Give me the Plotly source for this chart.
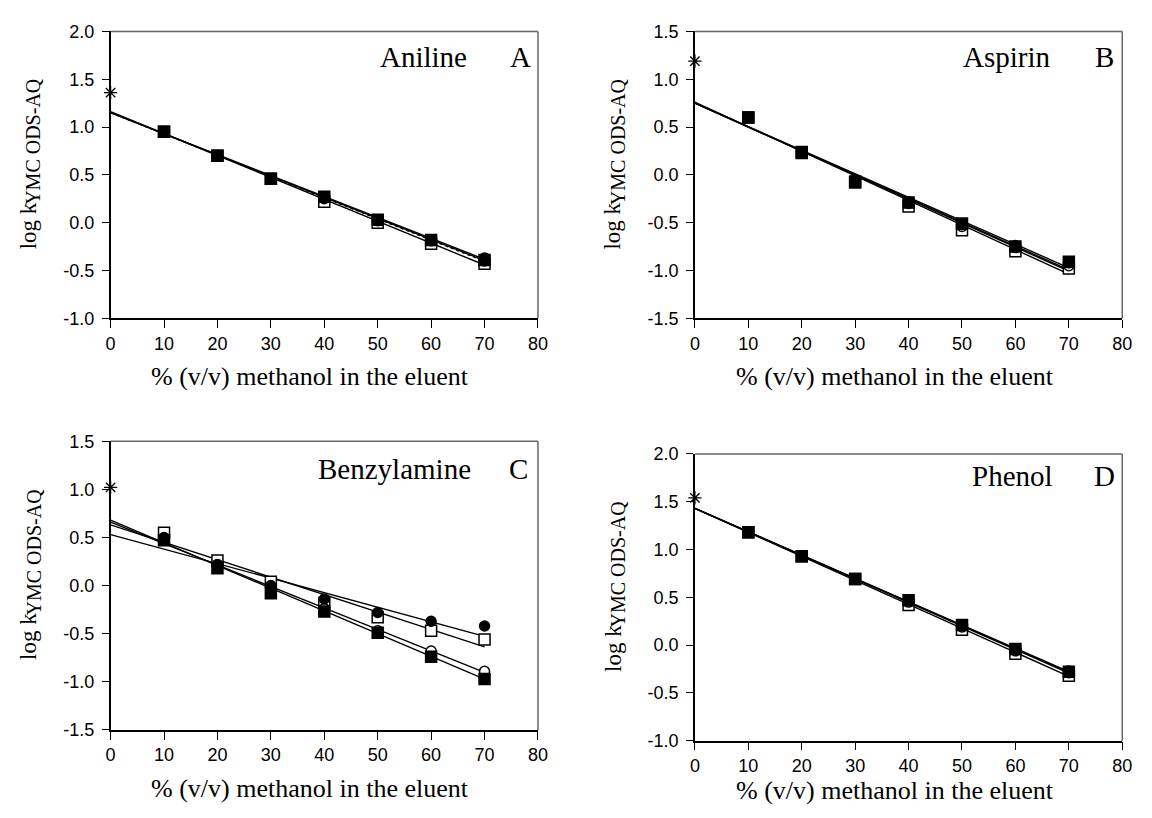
import plotly.graph_objects as go

# ---------------- data ----------------
x_pts = [10, 20, 30, 40, 50, 60, 70]
series_names = ["filled circle", "open circle", "open square", "filled square"]

# Panel A: Aniline
A_fc = [0.95, 0.70, 0.46, 0.26, 0.03, -0.18, -0.37]
A_oc = [0.95, 0.70, 0.46, 0.25, 0.02, -0.19, -0.40]
A_os = [0.95, 0.70, 0.46, 0.22, 0.00, -0.22, -0.43]
A_fs = [0.95, 0.70, 0.46, 0.27, 0.03, -0.18, -0.39]
A_intercept = [1.15, 1.15, 1.16, 1.15]
A_slope = [-0.0219, -0.0222, -0.0229, -0.0221]
A_star = 1.36

# Panel B: Aspirin
B_fc = [0.60, 0.23, -0.05, -0.28, -0.52, -0.74, -0.92]
B_oc = [0.60, 0.23, -0.06, -0.30, -0.54, -0.76, -0.95]
B_os = [0.60, 0.23, -0.07, -0.33, -0.58, -0.80, -0.98]
B_fs = [0.60, 0.24, -0.08, -0.29, -0.51, -0.75, -0.91]
B_intercept = [0.75, 0.75, 0.76, 0.75]
B_slope = [-0.0246, -0.0251, -0.0257, -0.0249]
B_star = 1.19

# Panel C: Benzylamine
C_fc = [0.50, 0.22, 0.00, -0.14, -0.28, -0.37, -0.42]
C_oc = [0.48, 0.20, -0.02, -0.24, -0.47, -0.68, -0.89]
C_os = [0.55, 0.26, 0.04, -0.18, -0.33, -0.47, -0.56]
C_fs = [0.47, 0.18, -0.08, -0.27, -0.49, -0.74, -0.97]
C_intercept = [0.53, 0.66, 0.63, 0.68]
C_slope = [-0.0151, -0.0223, -0.0181, -0.0236]
C_star = 1.02

# Panel D: Phenol
D_fc = [1.18, 0.93, 0.69, 0.47, 0.21, -0.04, -0.27]
D_oc = [1.18, 0.93, 0.69, 0.45, 0.19, -0.06, -0.29]
D_os = [1.18, 0.93, 0.69, 0.42, 0.16, -0.09, -0.32]
D_fs = [1.18, 0.93, 0.69, 0.47, 0.21, -0.04, -0.28]
D_intercept = [1.43, 1.43, 1.43, 1.43]
D_slope = [-0.0244, -0.0246, -0.0251, -0.0245]
D_star = 1.54

x_fit = [0, 70]
x_ticks = [0, 10, 20, 30, 40, 50, 60, 70, 80]
x_ticktext = ["0", "10", "20", "30", "40", "50", "60", "70", "80"]
yticks_A = [2.0, 1.5, 1.0, 0.5, 0.0, -0.5, -1.0]
yticks_B = [1.5, 1.0, 0.5, 0.0, -0.5, -1.0, -1.5]
compounds = ["Aniline", "Aspirin", "Benzylamine", "Phenol"]
letters = ["A", "B", "C", "D"]
x_title = "% (v/v) methanol in the eluent"
y_title_main = "log k"
y_title_sub = "YMC ODS-AQ"

# ---------------- layout params (pixels) ----------------
W, H = 1152, 818
panels = [
    dict(data=[A_fc, A_oc, A_os, A_fs], b=A_intercept, m=A_slope, star=A_star,
         yt=yticks_A, xpx=(107, 540), ypx=(22, 316), name_r=470, let_c=522, lab_y=57,
         xt_y=379, dots=True),
    dict(data=[B_fc, B_oc, B_os, B_fs], b=B_intercept, m=B_slope, star=B_star,
         yt=yticks_B, xpx=(699, 1132), ypx=(22, 316), name_r=1062, let_c=1114, lab_y=57,
         xt_y=379, dots=False),
    dict(data=[C_fc, C_oc, C_os, C_fs], b=C_intercept, m=C_slope, star=C_star,
         yt=yticks_B, xpx=(107, 540), ypx=(442, 738), name_r=474, let_c=520, lab_y=480,
         xt_y=801, dots=False),
    dict(data=[D_fc, D_oc, D_os, D_fs], b=D_intercept, m=D_slope, star=D_star,
         yt=yticks_A, xpx=(699, 1132), ypx=(455, 749), name_r=1064, let_c=1114, lab_y=487,
         xt_y=803, dots=False),
]

marker_styles = [
    dict(symbol="circle", color="black", size=10, line=dict(color="black", width=1.5)),
    dict(symbol="circle", color="white", size=10, line=dict(color="black", width=1.5)),
    dict(symbol="square", color="white", size=11, line=dict(color="black", width=1.5)),
    dict(symbol="square", color="black", size=11, line=dict(color="black", width=1.5)),
]

fig = go.Figure()
serif = "Liberation Serif, Times New Roman, serif"
sans = "Liberation Sans, Arial, sans-serif"

for i, p in enumerate(panels):
    k = "" if i == 0 else str(i + 1)
    xa, ya = "x" + k, "y" + k
    # fit lines
    for j in range(4):
        yfit = [p["b"][j] + p["m"][j] * xv for xv in x_fit]
        dash = "dot" if (p["dots"] and j == 1) else "solid"
        fig.add_trace(go.Scatter(x=x_fit, y=yfit, mode="lines", xaxis=xa, yaxis=ya,
                                 line=dict(color="black", width=1.4, dash=dash),
                                 showlegend=False, hoverinfo="skip"))
    # markers
    for j in [2, 1, 0, 3]:
        fig.add_trace(go.Scatter(x=x_pts, y=p["data"][j], mode="markers", xaxis=xa, yaxis=ya,
                                 marker=marker_styles[j], name=series_names[j],
                                 showlegend=False, cliponaxis=False))
    # asterisk
    fig.add_trace(go.Scatter(x=[0], y=[p["star"]], mode="markers", xaxis=xa, yaxis=ya,
                             marker=dict(symbol="asterisk-open", size=11, color="black",
                                         line=dict(color="black", width=1.3)),
                             showlegend=False, cliponaxis=False))

    x0, x1 = p["xpx"]
    y0, y1 = p["ypx"]
    xd = [x0 / W, x1 / W]
    yd = [1 - y1 / H, 1 - y0 / H]
    yt = p["yt"]
    fig.update_layout(**{
        "xaxis" + k: dict(domain=xd, range=[0, 80], tickvals=x_ticks, ticktext=x_ticktext,
                          ticks="outside", ticklen=8, tickwidth=1.3, tickcolor="black",
                          showline=True, linecolor="black", linewidth=1.5,
                          showgrid=False, zeroline=False, anchor=ya,
                          tickfont=dict(family=sans, size=18, color="black")),
        "yaxis" + k: dict(domain=yd, range=[min(yt), max(yt)], tickvals=yt,
                          ticktext=[("%.1f" % v) for v in yt],
                          ticks="outside", ticklen=7, tickwidth=1.3, tickcolor="black",
                          ticklabelstandoff=4,
                          showline=True, linecolor="black", linewidth=1.5,
                          showgrid=False, zeroline=False, anchor=xa,
                          tickfont=dict(family=sans, size=18, color="black")),
    })
    # gray box top/right
    fig.add_shape(type="line", xref="paper", yref="paper", x0=xd[0], x1=xd[1], y0=yd[1], y1=yd[1],
                  line=dict(color="#666666", width=1.5), layer="below")
    fig.add_shape(type="line", xref="paper", yref="paper", x0=xd[1], x1=xd[1], y0=yd[0], y1=yd[1],
                  line=dict(color="#666666", width=1.5), layer="below")
    # panel labels
    ly = 1 - (p["lab_y"] - 9) / H
    fig.add_annotation(x=p["name_r"] / W, y=ly, xref="paper", yref="paper", text=compounds[i],
                       xanchor="right", yanchor="middle", showarrow=False,
                       font=dict(family=serif, size=29, color="black"))
    fig.add_annotation(x=p["let_c"] / W, y=ly, xref="paper", yref="paper", text=letters[i],
                       xanchor="center", yanchor="middle", showarrow=False,
                       font=dict(family=serif, size=29, color="black"))
    # x axis title
    fig.add_annotation(x=((x0 + x1) / 2 - 14) / W, y=1 - (p["xt_y"] - 3) / H,
                       xref="paper", yref="paper", text=x_title, showarrow=False,
                       xanchor="center", yanchor="middle",
                       font=dict(family=serif, size=26, color="black"))
    # y axis title: "log k" + subscript, rotated
    yc = (y0 + y1) / 2 - 11          # pixel centre of the whole title
    main_len, sub_len = 47, 126      # approx pixel lengths
    total = main_len + sub_len
    y_main = yc + total / 2 - main_len / 2
    y_sub = yc - total / 2 + sub_len / 2
    fig.add_annotation(x=(x0 - 83) / W, y=1 - y_main / H, xref="paper", yref="paper",
                       text=y_title_main, showarrow=False, textangle=-90,
                       xanchor="center", yanchor="middle",
                       font=dict(family=serif, size=23, color="black"))
    fig.add_annotation(x=(x0 - 78) / W, y=1 - y_sub / H, xref="paper", yref="paper",
                       text=y_title_sub, showarrow=False, textangle=-90,
                       xanchor="center", yanchor="middle",
                       font=dict(family=serif, size=20, color="black"))

fig.update_layout(width=W, height=H, margin=dict(l=0, r=0, t=0, b=0),
                  plot_bgcolor="white", paper_bgcolor="white", showlegend=False)
fig.write_html("out.html")
